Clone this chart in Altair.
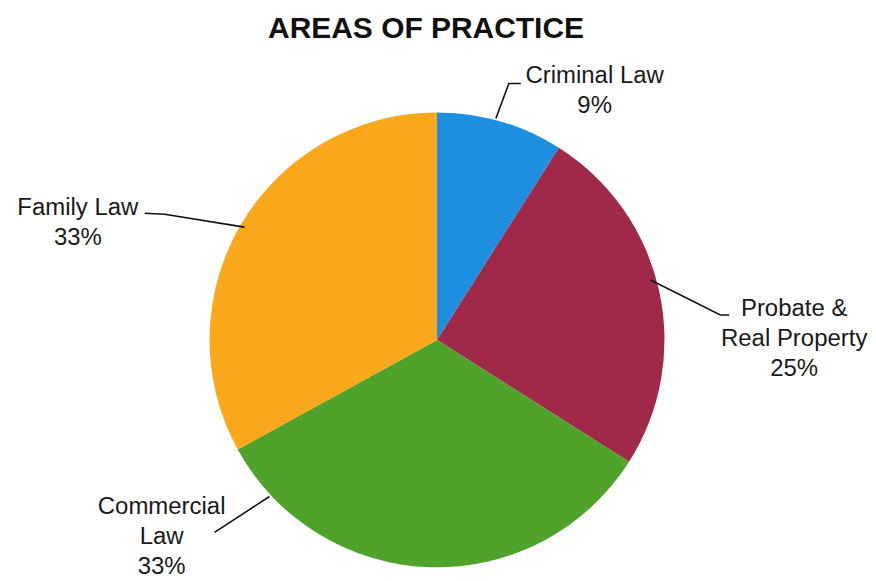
import altair as alt
import pandas as pd

# ---------------- data ----------------
title_text = "AREAS OF PRACTICE"
categories = ["Criminal Law", "Probate & Real Property", "Commercial Law", "Family Law"]
label_text = ["Criminal Law\n9%", "Probate &\nReal Property\n25%", "Commercial\nLaw\n33%", "Family Law\n33%"]
shares = [9, 25, 33, 33]

# ---------------- styles / layout (page pixel units) ----------------
colors = ["#1E8FE0", "#A02848", "#4FA32A", "#F8A81A"]
FONT = "Liberation Sans"
MARGIN = 8
PAD_TOP = 5
TOP = 51                       # page y where the plot area starts
W = 860
H = 573 - TOP
CX, CY, R = 438, 340, 228      # pie centre and radius
label_x = [596, 796, 162, 78]
label_y = [83, 316, 515, 215]  # first-line baselines
leader_x = [[497, 510, 522], [652, 722, 731], [270, 215], [245, 165, 145]]
leader_y = [[118, 83, 83], [280, 315, 315], [497, 533], [227, 214, 213]]

pie_df = pd.DataFrame({"category": categories, "share": shares, "idx": range(len(categories))})
lab_df = pd.DataFrame({"category": categories, "label": label_text, "px": label_x, "py": label_y})
lead_rows = []
for c, xs, ys in zip(categories, leader_x, leader_y):
    for i, (a, b) in enumerate(zip(xs, ys)):
        lead_rows.append({"category": c, "pt": i, "px": a, "py": b})
lead_df = pd.DataFrame(lead_rows)

xscale = alt.Scale(domain=[MARGIN, MARGIN + W], nice=False, zero=False)
yscale = alt.Scale(domain=[TOP, TOP + H], nice=False, zero=False, reverse=True)
color_scale = alt.Scale(domain=categories, range=colors)

pie = alt.Chart(pie_df).mark_arc(radius=R).encode(
    theta=alt.Theta("share:Q", stack=True),
    color=alt.Color("category:N", scale=color_scale, legend=None),
    order=alt.Order("idx:Q"),
    x=alt.value(CX - MARGIN),
    y=alt.value(CY - TOP),
)

leaders = alt.Chart(lead_df).mark_line(color="#111111", strokeWidth=1.6).encode(
    x=alt.X("px:Q", scale=xscale, axis=None),
    y=alt.Y("py:Q", scale=yscale, axis=None),
    detail="category:N",
    order="pt:Q",
)

labels = alt.Chart(lab_df).mark_text(
    font=FONT, fontSize=24, align="center", baseline="alphabetic",
    lineBreak="\n", lineHeight=30, color="#1a1a1a",
).encode(
    x=alt.X("px:Q", scale=xscale, axis=None),
    y=alt.Y("py:Q", scale=yscale, axis=None),
    text="label:N",
)

chart = alt.layer(pie, leaders, labels).properties(
    width=W,
    height=H,
    padding={"top": PAD_TOP, "left": 0, "right": 0, "bottom": 0},
    background="white",
    title=alt.TitleParams(
        title_text, font=FONT, fontSize=30, fontWeight="bold", color="#111111",
        anchor="middle", offset=8, dx=-11,
    ),
).configure_view(stroke=None)

chart.save("out.html", embed_options={"renderer": "svg", "actions": False})
